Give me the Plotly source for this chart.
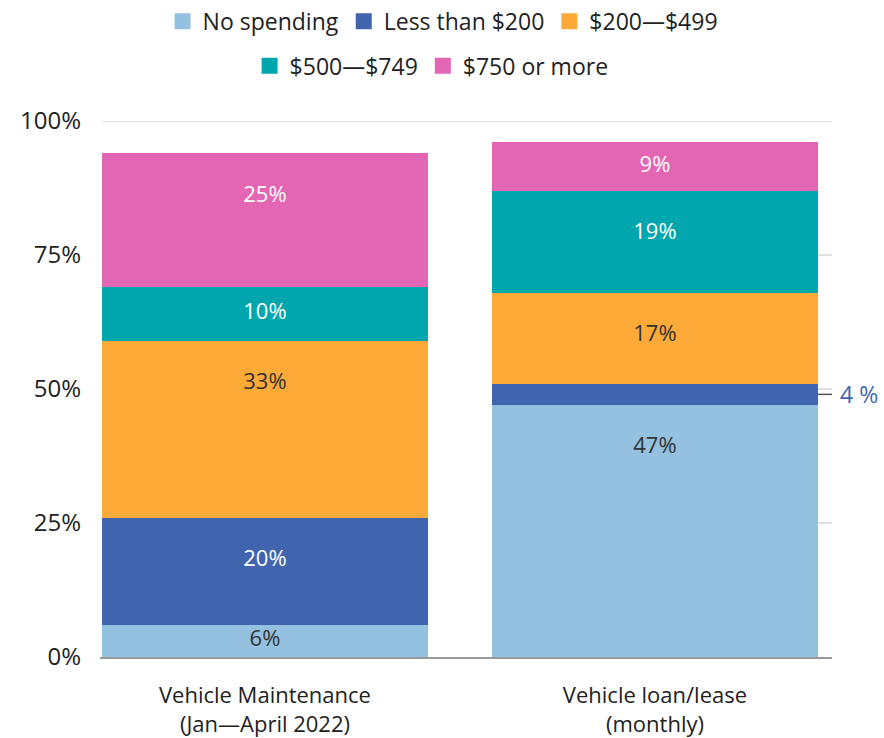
import plotly.graph_objects as go

# Spending bands (stack order, bottom to top)
bands = ["No spending", "Less than $200", "$200\u2014$499", "$500\u2014$749", "$750 or more"]
categories = ["Vehicle Maintenance<br>(Jan\u2014April 2022)", "Vehicle loan/lease<br>(monthly)"]

# Share of respondents (%) per band, for each category
no_spending = [6, 47]
less_200 = [20, 4]
from_200_499 = [33, 17]
from_500_749 = [10, 19]
over_750 = [25, 9]

y_ticks = [0, 25, 50, 75, 100]
y_tick_labels = ["0%", "25%", "50%", "75%", "100%"]

series = [no_spending, less_200, from_200_499, from_500_749, over_750]
colors = ["#93c1df", "#4164ae", "#fdaa38", "#00a6ad", "#e266b4"]
label_colors = ["#333333", "#ffffff", "#333333", "#ffffff", "#ffffff"]
legend_ids = ["legend", "legend", "legend", "legend2", "legend2"]

FONT = "Open Sans"
X_RANGE = [-0.423, 1.454]
BAR_WIDTH = 0.836
LABEL_DROP = 8   # label sits this far below a segment's top, or at its middle if lower

fig = go.Figure()
for name, vals, col, lg in zip(bands, series, colors, legend_ids):
    fig.add_trace(go.Bar(
        name=name, x=categories, y=vals, width=BAR_WIDTH,
        marker=dict(color=col, line=dict(width=0)),
        hoverinfo="skip", showlegend=False, legendgroup=name, legend=lg,
    ))
    # square swatch for the legend entry
    fig.add_trace(go.Scatter(
        name=name, x=[None], y=[None], mode="markers",
        marker=dict(symbol="square", size=22, color=col, line=dict(width=0)),
        legendgroup=name, legend=lg, hoverinfo="skip",
    ))

# value labels inside the segments
lab_x, lab_y, lab_t, lab_c = [], [], [], []
for ci, cat in enumerate(categories):
    base = 0
    for vals, lc in zip(series, label_colors):
        v = vals[ci]
        if v >= 5:  # the tiny slice is labelled outside the bar
            lab_x.append(cat)
            lab_y.append(max(base + v / 2, base + v - LABEL_DROP))
            lab_t.append(f"{v}%")
            lab_c.append(lc)
        base += v
fig.add_trace(go.Scatter(
    x=lab_x, y=lab_y, text=lab_t, mode="text", textposition="middle center",
    textfont=dict(family=FONT, size=22, color=lab_c), showlegend=False,
    hoverinfo="skip", cliponaxis=False,
))

# light reference lines, mostly hidden behind the bars
shapes = []
for t in y_ticks[1:]:
    x0 = -BAR_WIDTH / 2 if t == 100 else 1.0
    shapes.append(dict(type="line", xref="x", yref="y", x0=x0, x1=X_RANGE[1], y0=t, y1=t,
                       line=dict(color="#d6d6d6", width=1.5), layer="below"))

# leader line and label for the small "Less than $200" slice on the loan bar
small_mid = no_spending[1] + less_200[1] / 2
shapes.append(dict(type="line", xref="x", yref="y", x0=1 + BAR_WIDTH / 2, x1=X_RANGE[1],
                   y0=small_mid, y1=small_mid, line=dict(color="#555555", width=1.5)))

annotations = [dict(
    x=X_RANGE[1], y=small_mid, xref="x", yref="y", xanchor="left", yanchor="middle",
    xshift=6, text=f"{less_200[1]} %", showarrow=False,
    font=dict(family=FONT, size=23, color="#4164ae"),
)]

legend_style = dict(orientation="h", xanchor="center", yanchor="middle",
                    font=dict(family=FONT, size=23, color="#222222"), traceorder="normal",
                    bgcolor="rgba(0,0,0,0)")

fig.update_layout(
    width=884, height=738,
    margin=dict(l=100, r=52, t=121, b=81, autoexpand=False),
    paper_bgcolor="white", plot_bgcolor="white",
    barmode="stack",
    font=dict(family=FONT, size=22, color="#222222"),
    shapes=shapes, annotations=annotations,
    legend=dict(x=0.468, y=1.186, **legend_style),
    legend2=dict(x=0.453, y=1.103, **legend_style),
    xaxis=dict(range=X_RANGE, showline=True, linecolor="#999999", linewidth=2,
               ticks="", showgrid=False, ticklabelstandoff=18,
               tickfont=dict(family=FONT, size=22, color="#222222")),
    yaxis=dict(range=[0, 100], tickvals=y_ticks, ticktext=y_tick_labels, showgrid=False,
               zeroline=False, ticks="", ticklabelstandoff=18,
               tickfont=dict(family=FONT, size=24, color="#222222")),
)

fig.write_html("out.html")
